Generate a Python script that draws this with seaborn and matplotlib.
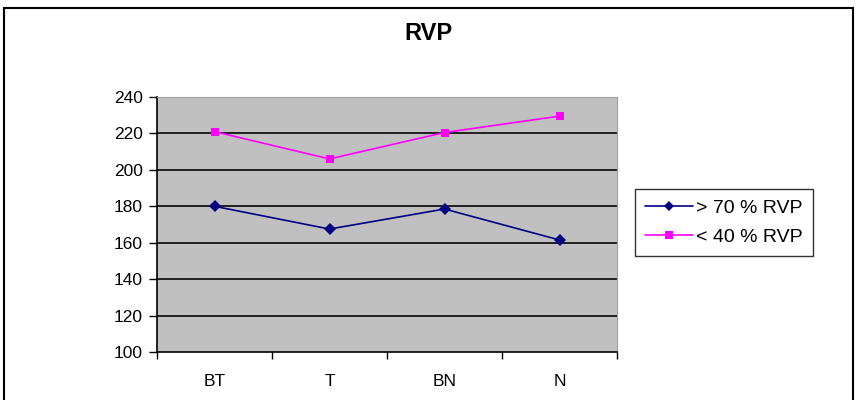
import matplotlib
matplotlib.use("Agg")
import matplotlib.pyplot as plt
import seaborn as sns
import pandas as pd
from matplotlib.patches import Rectangle

categories = ["BT", "T", "BN", "N"]
series_names = ["> 70 % RVP", "< 40 % RVP"]
high_vals = [180, 167.5, 178.5, 161.5]
low_vals = [221, 206, 220.5, 229.5]
y_ticks = [100, 120, 140, 160, 180, 200, 220, 240]

sns.set_theme(style="white")
plt.rcParams["font.family"] = ["Liberation Sans", "DejaVu Sans"]
plt.rcParams["text.color"] = "black"
plt.rcParams["xtick.color"] = "black"
plt.rcParams["ytick.color"] = "black"

df = pd.DataFrame({
    "cat": categories * 2,
    "x": list(range(len(categories))) * 2,
    "value": high_vals + low_vals,
    "series": [series_names[0]] * 4 + [series_names[1]] * 4,
})

fig = plt.figure(figsize=(8.56, 4.0), dpi=100)
ax = fig.add_axes([157 / 856, 1 - 352 / 400, (617 - 157) / 856, (352 - 97) / 400])
ax.set_facecolor("#c0c0c0")

palette = {series_names[0]: "#000080", series_names[1]: "#ff00ff"}
markers = {series_names[0]: "D", series_names[1]: "s"}
sns.lineplot(data=df, x="x", y="value", hue="series", style="series",
             palette=palette, markers=markers, dashes=False, markersize=6,
             linewidth=1.2, markeredgewidth=0, ax=ax, legend=True)

ax.set_ylim(100, 240)
ax.set_xlim(-0.5, len(categories) - 0.5)
ax.set_yticks(y_ticks)
ax.set_yticklabels([str(v) for v in y_ticks], fontsize=12.5)
for v in y_ticks[1:]:
    ax.axhline(v, color="#202020", lw=1.4, zorder=0.5)

ax.set_xticks([i - 0.5 for i in range(len(categories) + 1)])
ax.set_xticklabels([])
ax.set_xticks(list(range(len(categories))), minor=True)
ax.set_xticklabels(categories, minor=True, fontsize=12.5)
ax.tick_params(axis="x", which="major", direction="out", length=5, width=1, color="black", bottom=True)
ax.tick_params(axis="x", which="minor", length=0, pad=16)
ax.tick_params(axis="y", direction="out", length=6, width=1, color="black", left=True, pad=4)
ax.set_xlabel("")
ax.set_ylabel("")

for s in ["left", "bottom"]:
    ax.spines[s].set_color("black")
    ax.spines[s].set_linewidth(1.2)
for s in ["top", "right"]:
    ax.spines[s].set_color("#a0a0a0")
    ax.spines[s].set_linewidth(0.8)

leg = ax.legend(loc="center left", bbox_to_anchor=(635 / 856, 1 - 222.5 / 400),
                bbox_transform=fig.transFigure, frameon=True, fontsize=14,
                handlelength=2.5, handletextpad=0.15, borderpad=0.5,
                labelspacing=0.6, fancybox=False, borderaxespad=0,
                markerscale=0.85)
leg.get_frame().set_edgecolor("black")
leg.get_frame().set_linewidth(1.0)

fig.text(0.5, 1 - 33 / 400, "RVP", ha="center", va="center",
         fontsize=17, fontweight="bold")

fig.patches.append(Rectangle((4 / 856, -0.05), (853 - 4) / 856, (1 - 8 / 400) + 0.05,
                             transform=fig.transFigure, fill=False,
                             edgecolor="black", linewidth=1.5))

fig.savefig("out.png", dpi=100, facecolor="white")
